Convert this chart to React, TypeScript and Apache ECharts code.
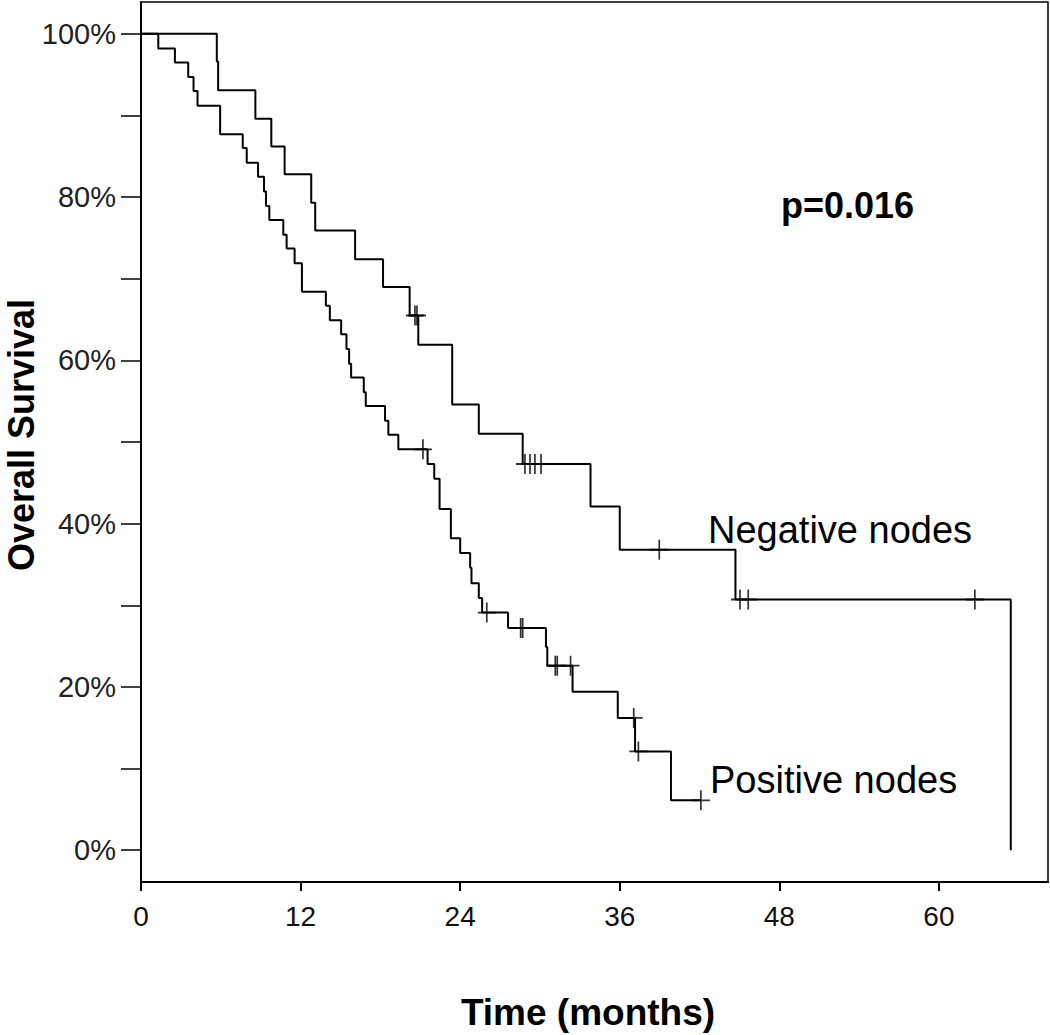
import React, { useEffect, useRef } from "react";
import * as echarts from "echarts";

// Kaplan-Meier step data (time in months, survival in %)
const negTimes = [0, 5.7, 5.8, 8.6, 9.8, 10.8, 12.8, 13.1, 16.1, 18.2, 20.2, 20.85, 23.4, 25.4, 28.7, 33.8, 36.0, 44.7, 65.4];
const negSurv = [100, 96.6, 93.1, 89.6, 86.2, 82.8, 79.3, 75.9, 72.4, 69.0, 65.5, 61.9, 54.6, 51.0, 47.3, 42.1, 36.8, 30.7, 0];
const negCensorTimes = [20.6, 20.75, 28.87, 29.25, 29.62, 30.08, 38.97, 45.04, 45.66, 62.7];

const posTimes = [0, 1.3, 2.55, 3.55, 3.95, 4.25, 5.95, 7.65, 7.95, 8.8, 9.25, 9.4, 9.65, 10.7, 10.95, 11.55, 12.1, 13.9, 14.2, 15.05, 15.45, 15.65, 15.8, 16.75, 16.9, 18.35, 18.6, 19.35, 21.55, 22.05, 22.45, 23.3, 24.0, 24.75, 24.85, 25.4, 25.65, 27.6, 30.45, 30.55, 32.45, 35.85, 37.15, 39.85];
const posSurv = [100, 98.2, 96.5, 94.7, 93.0, 91.2, 87.7, 86.0, 84.2, 82.5, 80.7, 78.9, 77.2, 75.4, 73.7, 71.9, 68.4, 66.7, 64.9, 63.2, 61.4, 59.6, 57.9, 56.1, 54.4, 52.6, 50.9, 49.1, 47.3, 45.5, 41.8, 38.2, 36.4, 34.6, 32.7, 30.9, 29.1, 27.2, 24.9, 22.6, 19.4, 16.2, 12.1, 6.1];
const posCensorTimes = [21.2, 26.0, 28.55, 28.7, 31.15, 31.3, 32.3, 37.05, 37.4, 42.1];

const xTickValues = [0, 12, 24, 36, 48, 60];
const yTickValues = [0, 10, 20, 30, 40, 50, 60, 70, 80, 90, 100];
const yLabelValues = [0, 20, 40, 60, 80, 100];

const FONT = '"Liberation Sans", Arial, sans-serif';

function survAt(times: number[], surv: number[], t: number) {
  let s = surv[0];
  for (let i = 0; i < times.length; i++) {
    if (times[i] <= t) s = surv[i];
  }
  return s;
}

function curve(times: number[], surv: number[], censors: number[]) {
  const pts = times.map((t, i) => [t, surv[i]]);
  const lastC = Math.max(...censors);
  const lastT = times[times.length - 1];
  if (lastC > lastT) pts.push([lastC, surv[surv.length - 1]]);
  return pts;
}

function censorPts(times: number[], surv: number[], censors: number[]) {
  return censors.map((t) => [t, survAt(times, surv, t)]);
}

const censorSymbol = "path://M9,0L9,20M0,10L18,10";

export default function App() {
  const ref = useRef<HTMLDivElement>(null);
  useEffect(() => {
    const chart = echarts.init(ref.current!, null, { renderer: "svg" });
    const option: any = {
      animation: false,
      backgroundColor: "#fff",
      grid: {
        left: 141,
        right: 2,
        top: 2,
        bottom: 153,
        show: true,
        borderColor: "#000",
        borderWidth: 1.5,
        backgroundColor: "transparent",
      },
      xAxis: {
        type: "value",
        min: 0,
        max: 68.2,
        axisLine: { onZero: false, lineStyle: { color: "#000", width: 2 } },
        axisTick: {
          customValues: xTickValues,
          length: 9,
          lineStyle: { color: "#000", width: 2 },
        },
        axisLabel: {
          customValues: xTickValues,
          color: "#111",
          fontSize: 28,
          fontFamily: FONT,
          margin: 20,
        },
        splitLine: { show: false },
      },
      yAxis: {
        type: "value",
        min: -3.9,
        max: 103.9,
        axisLine: { onZero: false, lineStyle: { color: "#000", width: 2 } },
        axisTick: {
          customValues: yTickValues,
          length: 20,
          lineStyle: { color: "#000", width: 1.5 },
        },
        axisLabel: {
          customValues: yLabelValues,
          formatter: (v: number) => `${v}%`,
          color: "#222",
          fontSize: 29,
          fontFamily: FONT,
          margin: 25,
        },
        splitLine: { show: false },
      },
      graphic: [
        {
          type: "text",
          x: 21,
          y: 435,
          rotation: Math.PI / 2,
          style: {
            text: "Overall Survival",
            font: `bold 36px ${FONT}`,
            fill: "#000",
            align: "center",
            verticalAlign: "middle",
          },
        },
        {
          type: "text",
          x: 588,
          y: 1012,
          style: {
            text: "Time (months)",
            font: `bold 37px ${FONT}`,
            fill: "#000",
            align: "center",
            verticalAlign: "middle",
          },
        },
        {
          type: "text",
          x: 781,
          y: 205,
          style: {
            text: "p=0.016",
            font: `bold 36px ${FONT}`,
            fill: "#000",
            align: "left",
            verticalAlign: "middle",
          },
        },
        {
          type: "text",
          x: 708,
          y: 530,
          style: {
            text: "Negative nodes",
            font: `38px ${FONT}`,
            fill: "#000",
            align: "left",
            verticalAlign: "middle",
          },
        },
        {
          type: "text",
          x: 710,
          y: 780,
          style: {
            text: "Positive nodes",
            font: `38px ${FONT}`,
            fill: "#000",
            align: "left",
            verticalAlign: "middle",
          },
        },
      ],
      series: [
        {
          name: "Negative nodes",
          type: "line",
          step: "end",
          data: curve(negTimes, negSurv, negCensorTimes),
          showSymbol: false,
          lineStyle: { color: "#000", width: 2 },
          z: 3,
        },
        {
          name: "Positive nodes",
          type: "line",
          step: "end",
          data: curve(posTimes, posSurv, posCensorTimes),
          showSymbol: false,
          lineStyle: { color: "#000", width: 2 },
          z: 3,
        },
        {
          name: "Negative censored",
          type: "scatter",
          data: censorPts(negTimes, negSurv, negCensorTimes),
          symbol: censorSymbol,
          symbolSize: [18, 20],
          itemStyle: { color: "transparent", borderColor: "#000", borderWidth: 1.8 },
          z: 4,
        },
        {
          name: "Positive censored",
          type: "scatter",
          data: censorPts(posTimes, posSurv, posCensorTimes),
          symbol: censorSymbol,
          symbolSize: [18, 20],
          itemStyle: { color: "transparent", borderColor: "#000", borderWidth: 1.8 },
          z: 4,
        },
      ],
    };
    chart.setOption(option);
    return () => chart.dispose();
  }, []);
  return (
    <div
      ref={ref}
      style={{ position: "fixed", left: 0, top: 0, width: 1050, height: 1035, background: "#fff" }}
    />
  );
}
